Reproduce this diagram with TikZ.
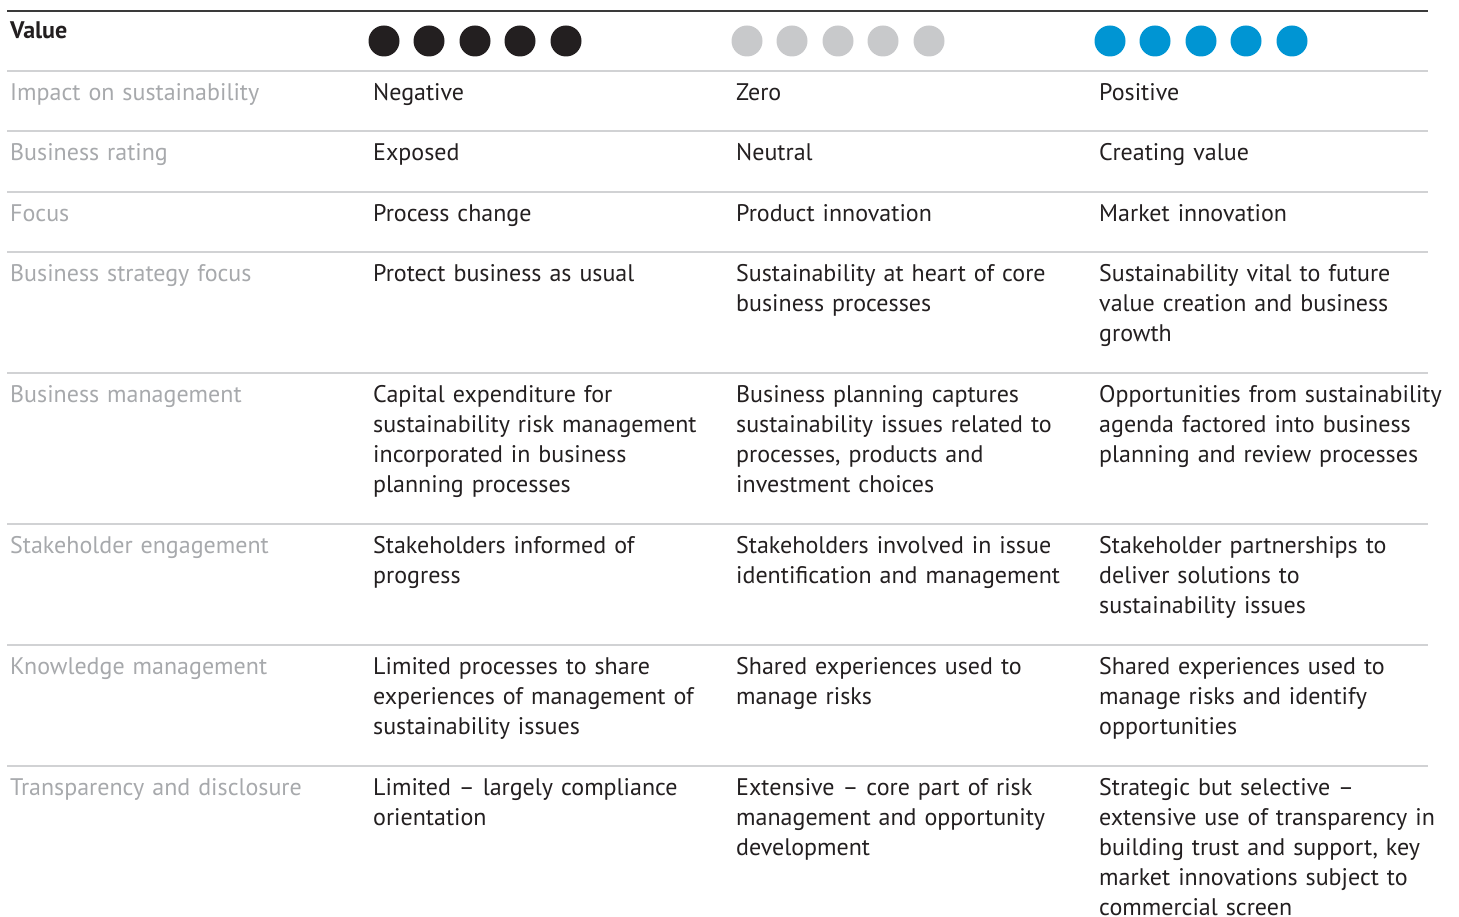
\documentclass[tikz,border=0pt]{standalone}
\usepackage{fontspec}
\setmainfont{PT Sans}
\definecolor{ink}{HTML}{231F20}
\definecolor{lbl}{HTML}{A7A9AC}
\definecolor{rule}{HTML}{D1D2D4}
\definecolor{topr}{HTML}{3A3A3A}
\definecolor{dotgray}{HTML}{C8C9CB}
\definecolor{dotblue}{HTML}{0095D3}
\begin{document}
\begin{tikzpicture}[x=1pt,y=-1pt,
  cell/.style={anchor=base west,inner sep=0pt,text width=420pt,align=left,
    font=\fontsize{24}{30}\selectfont,text=ink},
  rowlbl/.style={cell,text=lbl},
  hdr/.style={cell,font=\fontsize{24}{30}\selectfont\bfseries},
  hline/.style={draw=rule,line width=2pt},
  topline/.style={draw=topr,line width=2pt},
  dotk/.style={circle,fill=ink,minimum size=31pt,inner sep=0pt},
  dotg/.style={dotk,fill=dotgray},
  dotb/.style={dotk,fill=dotblue}]
\useasboundingbox (0,0) rectangle (1459,917);
\draw[topline] (7,11) -- (1428,11);
\foreach \y in {71,131,192,252,373,524,645,766}
  \draw[hline] (7,\y) -- (1428,\y);
\node[hdr] (value) at (10,39) {Value};
\foreach \i/\x in {1/384,2/429,3/475,4/520,5/566} \node[dotk] (k\i) at (\x,41) {};
\foreach \i/\x in {1/747,2/792,3/838,4/883,5/929} \node[dotg] (g\i) at (\x,41) {};
\foreach \i/\x in {1/1110,2/1155,3/1201,4/1246,5/1292} \node[dotb] (b\i) at (\x,41) {};
% labels
\node[rowlbl] (l1) at (10,100.5) {Impact on sustainability};
\node[rowlbl] (l2) at (10,160.5) {Business rating};
\node[rowlbl] (l3) at (10,221.5) {Focus};
\node[rowlbl] (l4) at (10,281.5) {Business strategy focus};
\node[rowlbl] (l5) at (10,402.5) {Business management};
\node[rowlbl] (l6) at (10,553.5) {Stakeholder engagement};
\node[rowlbl] (l7) at (10,674.5) {Knowledge management};
\node[rowlbl] (l8) at (10,795.5) {Transparency and disclosure};
% column 1
\node[cell] (a1) at (373,100.5) {Negative};
\node[cell] (a2) at (373,160.5) {Exposed};
\node[cell] (a3) at (373,221.5) {Process change};
\node[cell] (a4) at (373,281.5) {Protect business as usual};
\node[cell] (a5) at (373,402.5) {Capital expenditure for\\sustainability risk management\\incorporated in business\\planning processes};
\node[cell] (a6) at (373,553.5) {Stakeholders informed of\\progress};
\node[cell] (a7) at (373,674.5) {Limited processes to share\\experiences of management of\\sustainability issues};
\node[cell] (a8) at (373,795.5) {Limited – largely compliance\\orientation};
% column 2
\node[cell] (c1) at (736,100.5) {Zero};
\node[cell] (c2) at (736,160.5) {Neutral};
\node[cell] (c3) at (736,221.5) {Product innovation};
\node[cell] (c4) at (736,281.5) {Sustainability at heart of core\\business processes};
\node[cell] (c5) at (736,402.5) {Business planning captures\\sustainability issues related to\\processes, products and\\investment choices};
\node[cell] (c6) at (736,553.5) {Stakeholders involved in issue\\identification and management};
\node[cell] (c7) at (736,674.5) {Shared experiences used to\\manage risks};
\node[cell] (c8) at (736,795.5) {Extensive – core part of risk\\management and opportunity\\development};
% column 3
\node[cell] (p1) at (1099,100.5) {Positive};
\node[cell] (p2) at (1099,160.5) {Creating value};
\node[cell] (p3) at (1099,221.5) {Market innovation};
\node[cell] (p4) at (1099,281.5) {Sustainability vital to future\\value creation and business\\growth};
\node[cell] (p5) at (1099,402.5) {Opportunities from sustainability\\agenda factored into business\\planning and review processes};
\node[cell] (p6) at (1099,553.5) {Stakeholder partnerships to\\deliver solutions to\\sustainability issues};
\node[cell] (p7) at (1099,674.5) {Shared experiences used to\\manage risks and identify\\opportunities};
\node[cell] (p8) at (1099,795.5) {Strategic but selective –\\extensive use of transparency in\\building trust and support, key\\market innovations subject to\\commercial screen};
\end{tikzpicture}
\end{document}
